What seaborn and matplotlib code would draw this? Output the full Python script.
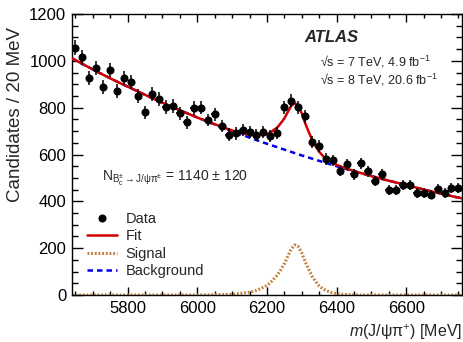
import matplotlib
matplotlib.use("Agg")
import matplotlib.pyplot as plt
from matplotlib.lines import Line2D
from matplotlib.ticker import MultipleLocator
import seaborn as sns
import pandas as pd
import numpy as np

# Data: bin centres (20 MeV bins) and candidate counts
bin_centres = [5650 + 20 * i for i in range(56)]
counts = [1056, 1015, 928, 969, 887, 960, 872, 927, 911, 851,
          780, 857, 837, 803, 807, 776, 737, 799, 800, 747,
          772, 722, 685, 690, 705, 696, 682, 697, 679, 693,
          801, 830, 801, 764, 655, 638, 581, 576, 530, 558,
          515, 562, 528, 487, 515, 448, 448, 471, 470, 436,
          436, 429, 451, 435, 457, 457]

# Fit curves (mass grid, background, signal)
curve_mass = [5640, 5680, 5720, 5760, 5800, 5840, 5880, 5920, 5960, 6000,
              6040, 6080, 6100, 6110, 6120, 6130, 6140, 6150, 6160, 6170,
              6180, 6190, 6200, 6210, 6220, 6230, 6240, 6250, 6260, 6270,
              6280, 6290, 6300, 6310, 6320, 6330, 6340, 6350, 6360, 6370,
              6380, 6390, 6400, 6410, 6420, 6430, 6440, 6450, 6460, 6500,
              6540, 6580, 6620, 6660, 6700, 6740, 6760]
background = [1011, 979, 948, 918, 890, 862, 834, 808, 783, 758,
              734, 711, 700, 694, 689, 683, 678, 672, 667, 662,
              656, 651, 646, 641, 636, 631, 626, 621, 616, 611,
              606, 601, 596, 592, 587, 582, 577, 573, 568, 564,
              559, 555, 550, 546, 542, 537, 533, 529, 525, 508,
              492, 477, 462, 447, 433, 419, 413]
signal = [0, 0, 0, 0, 0, 0, 0, 0, 0, 0,
          1, 2, 3, 4, 6, 8, 10, 12, 15, 20,
          26, 33, 41, 53, 69, 85, 108, 133, 166, 197,
          214, 207, 180, 141, 110, 80, 58, 39, 27, 19,
          13, 9, 6, 4, 3, 2, 1, 1, 0, 0,
          0, 0, 0, 0, 0, 0, 0]

curves = pd.DataFrame({"mass": curve_mass, "bkg": background, "sig": signal})
curves["fit"] = curves["bkg"] + curves["sig"]

sns.set_style("ticks")
plt.rcParams["font.family"] = ["Liberation Sans", "DejaVu Sans"]
plt.rcParams["mathtext.fontset"] = "custom"
plt.rcParams["mathtext.rm"] = "Liberation Sans"
plt.rcParams["mathtext.it"] = "Liberation Sans:italic"
plt.rcParams["mathtext.bf"] = "Liberation Sans:bold"

fit_col = "#d00000"
sig_col = "#c0803a"
bkg_col = "#0000ee"

fig = plt.figure(figsize=(4.64, 3.42), dpi=100)
ax = fig.add_axes([0.155, 0.1374, 0.8405, 0.8216])

# curves
sns.lineplot(data=curves, x="mass", y="bkg", ax=ax, color=bkg_col,
             linewidth=1.8, linestyle=(0, (2.2, 1.6)), zorder=2)
sns.lineplot(data=curves, x="mass", y="sig", ax=ax, color=sig_col,
             linewidth=2.2, linestyle=(0, (0.6, 0.6)), zorder=2)
sns.lineplot(data=curves, x="mass", y="fit", ax=ax, color=fit_col,
             linewidth=1.8, zorder=3)

# data points
ax.errorbar(bin_centres, counts, yerr=np.sqrt(counts), xerr=10, fmt="o",
            color="black", markersize=4.8, elinewidth=1.1, capsize=0,
            zorder=4)

ax.set_xlim(5640, 6760)
ax.set_ylim(0, 1200)
ax.xaxis.set_major_locator(MultipleLocator(200))
ax.xaxis.set_minor_locator(MultipleLocator(50))
ax.yaxis.set_major_locator(MultipleLocator(200))
ax.yaxis.set_minor_locator(MultipleLocator(50))
ax.tick_params(which="both", direction="in", top=True, right=True,
               labelsize=12, width=1.0, pad=4, colors="black")
ax.tick_params(axis="x", which="major", length=6)
ax.tick_params(axis="x", which="minor", length=3)
ax.tick_params(axis="y", which="major", length=8)
ax.tick_params(axis="y", which="minor", length=4)
for sp in ax.spines.values():
    sp.set_linewidth(1.0)
    sp.set_color("black")

ax.set_xlabel(r"$m$(J/ψπ$^{+}$) [MeV]", fontsize=11.5, loc="right",
              labelpad=5)
ax.set_ylabel("Candidates / 20 MeV", fontsize=13.5, loc="top", labelpad=4)
ax.yaxis.label.set_position((0, 0.955))

# annotations
ax.text(0.597, 0.916, "ATLAS", transform=ax.transAxes, fontsize=12,
        fontweight="bold", fontstyle="italic", va="center", ha="left")
ax.text(0.636, 0.829, r"√s = 7 TeV, 4.9 fb$^{-1}$", transform=ax.transAxes,
        fontsize=9, va="center", ha="left")
ax.text(0.636, 0.765, r"√s = 8 TeV, 20.6 fb$^{-1}$", transform=ax.transAxes,
        fontsize=9, va="center", ha="left")
ax.text(0.076, 0.416,
        r"N$_{\mathregular{B_c^{\pm}\rightarrow J/\psi\pi^{\pm}}}$ = 1140 $\pm$ 120",
        transform=ax.transAxes, fontsize=10, va="center", ha="left")

handles = [
    Line2D([], [], color="black", marker="o", linestyle="none", markersize=4.8),
    Line2D([], [], color=fit_col, linewidth=1.8),
    Line2D([], [], color=sig_col, linewidth=2.2, linestyle=(0, (0.6, 0.6))),
    Line2D([], [], color=bkg_col, linewidth=1.8, linestyle=(0, (2.2, 1.6))),
]
ax.legend(handles, ["Data", "Fit", "Signal", "Background"], loc="upper left",
          bbox_to_anchor=(0.0377, 0.296), frameon=False, fontsize=10.5,
          handlelength=2.1, handletextpad=0.55, labelspacing=0.24,
          borderpad=0, borderaxespad=0)

fig.savefig("out.png", dpi=100)
